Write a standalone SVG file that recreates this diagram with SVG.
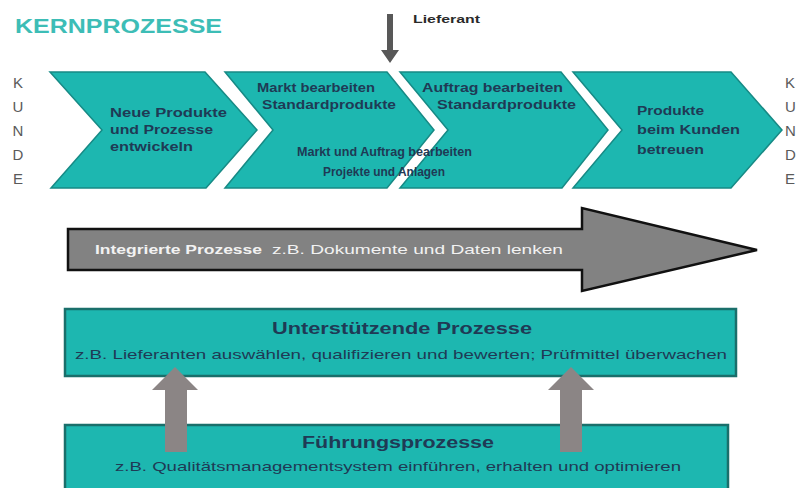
<svg xmlns="http://www.w3.org/2000/svg" width="798" height="488" viewBox="0 0 798 488">
<defs>
<style>
.chev{fill:#1db7b0;stroke:#178a85;stroke-width:1.5}
.box{fill:#1db7b0;stroke:#1a6f6b;stroke-width:2.5}
.ct{font-family:"Liberation Sans",Arial,sans-serif;font-weight:bold;font-size:13px;fill:#1f3a55}
.bt{font-family:"Liberation Sans",Arial,sans-serif;font-size:13px;fill:#1f3a55}
.bh{font-family:"Liberation Sans",Arial,sans-serif;font-weight:bold;font-size:16px;fill:#1f3a55}
.kd{font-family:"Liberation Sans",Arial,sans-serif;font-size:15px;fill:#5a5a5a}
.up{fill:#8b8585}
</style>
</defs>
<rect width="798" height="488" fill="#ffffff"/>
<g id="title">
<text x="15" y="33" font-family="'Liberation Sans',Arial,sans-serif" font-weight="bold" font-size="21" fill="#3dbdb6" textLength="207" lengthAdjust="spacingAndGlyphs">KERNPROZESSE</text>
</g>
<g id="kunde-left" class="kd" text-anchor="middle">
<text x="18" y="88">K</text>
<text x="18" y="112">U</text>
<text x="18" y="136">N</text>
<text x="18" y="160">D</text>
<text x="18" y="184">E</text>
</g>
<g id="kunde-right" class="kd">
<text x="785" y="88">K</text>
<text x="785" y="112">U</text>
<text x="785" y="136">N</text>
<text x="785" y="160">D</text>
<text x="785" y="184">E</text>
</g>
<g id="chevron1">
<polygon class="chev" points="50,72 205,72 257,130 206,188 51,188 102,130"/>
<text class="ct" x="110" y="117" textLength="117" lengthAdjust="spacingAndGlyphs">Neue Produkte</text>
<text class="ct" x="110" y="134" textLength="103" lengthAdjust="spacingAndGlyphs">und Prozesse</text>
<text class="ct" x="110" y="151" textLength="83" lengthAdjust="spacingAndGlyphs">entwickeln</text>
</g>
<g id="chevron2">
<polygon class="chev" points="225,72 387,72 434,130 387,188 225,188 273,130"/>
<text class="ct" x="257" y="92" textLength="118" lengthAdjust="spacingAndGlyphs">Markt bearbeiten</text>
<text class="ct" x="262" y="109" textLength="134" lengthAdjust="spacingAndGlyphs">Standardprodukte</text>
</g>
<g id="chevron3">
<polygon class="chev" points="400,72 561,72 608,130 562,188 400,188 448,130"/>
<text class="ct" x="422" y="92" textLength="141" lengthAdjust="spacingAndGlyphs">Auftrag bearbeiten</text>
<text class="ct" x="437" y="109" textLength="139" lengthAdjust="spacingAndGlyphs">Standardprodukte</text>
</g>
<g id="chevron2-3-text">
<text class="ct" x="297" y="156" textLength="175" lengthAdjust="spacingAndGlyphs">Markt und Auftrag bearbeiten</text>
<text class="ct" x="323" y="176" textLength="122" lengthAdjust="spacingAndGlyphs">Projekte und Anlagen</text>
</g>
<g id="chevron4">
<polygon class="chev" points="573,72 731,72 782,130 731,188 573,188 622,130"/>
<text class="ct" x="637" y="115" textLength="67" lengthAdjust="spacingAndGlyphs">Produkte</text>
<text class="ct" x="637" y="134" textLength="103" lengthAdjust="spacingAndGlyphs">beim Kunden</text>
<text class="ct" x="637" y="154" textLength="67" lengthAdjust="spacingAndGlyphs">betreuen</text>
</g>
<g id="lieferant">
<polygon fill="#585858" points="387,14 393,14 393,50 399,50 390,63 381,50 387,50"/>
<text x="413" y="23" font-family="'Liberation Sans',Arial,sans-serif" font-weight="bold" font-size="11" fill="#2a2a2a" textLength="67" lengthAdjust="spacingAndGlyphs">Lieferant</text>
</g>
<g id="integrierte">
<polygon fill="#828282" stroke="#111" stroke-width="2.5" stroke-linejoin="miter" points="68,229 582,229 582,208 757,250 582,291 582,270 68,270"/>
<text x="95" y="254" font-family="'Liberation Sans',Arial,sans-serif" font-size="13.5" fill="#f2f2f2"><tspan font-weight="bold" textLength="167" lengthAdjust="spacingAndGlyphs">Integrierte Prozesse</tspan><tspan x="272" textLength="291" lengthAdjust="spacingAndGlyphs">z.B. Dokumente und Daten lenken</tspan></text>
</g>
<g id="unterstuetzende">
<rect class="box" x="65" y="309" width="671" height="67"/>
<text class="bh" x="402" y="334" text-anchor="middle" textLength="260" lengthAdjust="spacingAndGlyphs">Unterstützende Prozesse</text>
<text class="bt" x="75" y="359" textLength="652" lengthAdjust="spacingAndGlyphs">z.B. Lieferanten auswählen, qualifizieren und bewerten; Prüfmittel überwachen</text>
</g>
<g id="fuehrung">
<rect class="box" x="65" y="425" width="663" height="70"/>
<text class="bh" x="398" y="448" text-anchor="middle" textLength="192" lengthAdjust="spacingAndGlyphs">Führungsprozesse</text>
<text class="bt" x="115" y="471" textLength="566" lengthAdjust="spacingAndGlyphs">z.B. Qualitätsmanagementsystem einführen, erhalten und optimieren</text>
</g>
<g id="connectors">
<polygon class="up" points="175,367 198,390 187,390 187,452 165,452 165,390 152,390"/>
<polygon class="up" points="571,367 594,390 582,390 582,452 560,452 560,390 548,390"/>
</g>
</svg>
